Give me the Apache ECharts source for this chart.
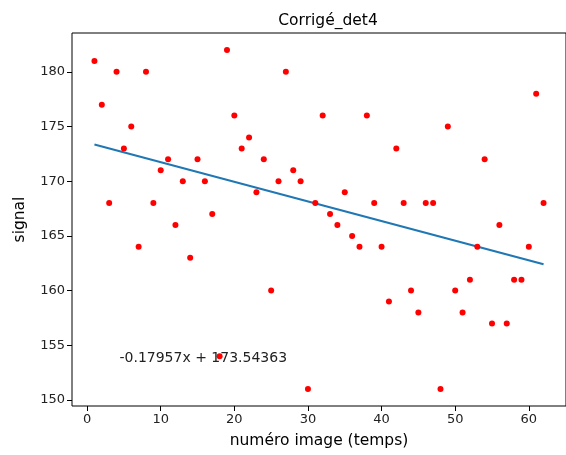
<!DOCTYPE html>
<html>
<head>
<meta charset="utf-8">
<script src="https://cdn.jsdelivr.net/npm/echarts@6/dist/echarts.min.js"></script>
<style>
  html, body { margin: 0; padding: 0; background: #fff; }
  #main { width: 566px; height: 455px; }
</style>
</head>
<body>
<div id="main"></div>
<script>
// numéro image (x) and signal (y)
var frames = [1, 2, 3, 4, 5, 6, 7, 8, 9, 10, 11, 12, 13, 14, 15, 16, 17, 18, 19, 20,
  21, 22, 23, 24, 25, 26, 27, 28, 29, 30, 31, 32, 33, 34, 35, 36, 37, 38, 39, 40,
  41, 42, 43, 44, 45, 46, 47, 48, 49, 50, 51, 52, 53, 54, 55, 56, 57, 58, 59, 60, 61, 62]
var signal = [181, 177, 168, 180, 173, 175, 164, 180, 168, 171, 172, 166, 170, 163, 172, 170, 167, 154, 182, 176,
  173, 174, 169, 172, 160, 170, 180, 171, 170, 151, 168, 176, 167, 166, 169, 165, 164, 176, 168, 164,
  159, 173, 168, 160, 158, 168, 168, 151, 175, 160, 158, 161, 164, 172, 157, 166, 157, 161, 161, 164, 178, 168]
var xTicks = [0, 10, 20, 30, 40, 50, 60]
var yTicks = [150, 155, 160, 165, 170, 175, 180]
// fit coefficients as printed on the chart
var slope = -0.17957
var intercept = 173.54363

var font = 'DejaVu Sans'
var points = frames.map(function (x, i) { return [x, signal[i]] })
var x0 = frames[0]
var x1 = frames[frames.length - 1]
var fit = [[x0, slope * x0 + intercept], [x1, slope * x1 + intercept]]

var myChart = echarts.init(document.getElementById('main'))
var option = {
  animation: false,
  title: {
    text: 'Corrigé_det4',
    left: 323,
    top: 8,
    textAlign: 'center',
    textStyle: { fontFamily: font, fontSize: 15.5, fontWeight: 'normal', color: '#000' }
  },
  grid: {
    left: 72,
    right: -9,
    top: 33,
    bottom: 49,
    show: true,
    borderColor: '#000',
    borderWidth: 1
  },
  xAxis: {
    type: 'value',
    min: -2.05,
    max: 65.05,
    name: 'numéro image (temps)',
    nameLocation: 'middle',
    nameGap: 27,
    nameTextStyle: { fontFamily: font, fontSize: 15.5, color: '#000' },
    axisLine: { show: false, onZero: false },
    splitLine: { show: false },
    axisTick: { show: true, inside: false, length: 5, customValues: xTicks, lineStyle: { color: '#000' } },
    axisLabel: { customValues: xTicks, fontFamily: font, fontSize: 13, color: '#222', margin: 7 }
  },
  yAxis: {
    type: 'value',
    min: 149.45,
    max: 183.55,
    name: 'signal',
    nameLocation: 'middle',
    nameGap: 44,
    nameRotate: 90,
    nameTextStyle: { fontFamily: font, fontSize: 15.5, color: '#000' },
    axisLine: { show: false, onZero: false },
    splitLine: { show: false },
    axisTick: { show: true, inside: false, length: 5, customValues: yTicks, lineStyle: { color: '#000' } },
    axisLabel: { customValues: yTicks, fontFamily: font, fontSize: 13, color: '#222', margin: 7 }
  },
  series: [
    {
      type: 'scatter',
      data: points,
      symbolSize: 6,
      itemStyle: { color: '#ff0000', opacity: 1 },
      z: 3
    },
    {
      type: 'line',
      data: fit,
      symbol: 'none',
      lineStyle: { color: '#1f77b4', width: 2 },
      z: 2
    }
  ]
}
myChart.setOption(option)

var pos = myChart.convertToPixel({ gridIndex: 0 }, [4.4, 153.2])
myChart.setOption({
  graphic: [{
    type: 'text',
    x: pos[0],
    y: pos[1],
    style: {
      text: slope.toFixed(5) + 'x + ' + intercept.toFixed(5),
      font: '14px "DejaVu Sans"',
      fill: '#222',
      textAlign: 'left',
      textVerticalAlign: 'bottom'
    },
    z: 10
  }]
})
</script>
</body>
</html>
